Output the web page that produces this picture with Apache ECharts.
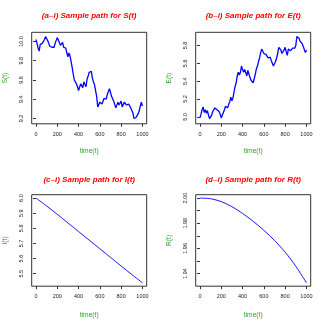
<!DOCTYPE html>
<html>
<head>
<meta charset="utf-8">
<script src="https://cdn.jsdelivr.net/npm/echarts@6/dist/echarts.min.js"></script>
<style>
html,body{margin:0;padding:0;background:#fff;}
#c{width:327px;height:327px;}
</style>
</head>
<body>
<div id="c"></div>
<script>
// ---- data ----
var timeWalk = [0,10,20,30,40,50,60,70,80,90,100,110,120,130,140,150,160,170,180,190,200,210,220,230,240,250,260,270,280,290,300,310,320,330,340,350,360,370,380,390,400,410,420,430,440,450,460,470,480,490,500,510,520,530,540,550,560,570,580,590,600,610,620,630,640,650,660,670,680,690,700,710,720,730,740,750,760,770,780,790,800,810,820,830,840,850,860,870,880,890,900,910,920,930,940,950,960,970,980,990,1000];
var sValues = [10.02,9.98,9.93,9.90,9.97,9.95,9.98,10.00,10.02,10.05,10.06,10.01,9.98,9.95,9.93,9.94,9.92,9.94,9.98,10.00,10.04,10.02,9.99,9.96,9.94,9.99,9.94,9.92,9.93,9.88,9.84,9.88,9.85,9.79,9.73,9.66,9.60,9.58,9.56,9.53,9.49,9.48,9.56,9.55,9.52,9.58,9.56,9.53,9.61,9.64,9.68,9.66,9.69,9.62,9.58,9.55,9.49,9.43,9.32,9.34,9.37,9.38,9.35,9.37,9.41,9.42,9.40,9.45,9.46,9.51,9.47,9.43,9.41,9.38,9.36,9.31,9.33,9.37,9.34,9.35,9.38,9.32,9.34,9.37,9.35,9.34,9.33,9.35,9.36,9.31,9.29,9.26,9.20,9.18,9.21,9.23,9.25,9.28,9.33,9.37,9.33];
var eValues = [4.99,5.03,5.08,5.11,5.05,5.08,5.04,5.07,5.02,4.98,4.96,5.02,5.06,5.08,5.10,5.09,5.08,5.10,5.06,5.03,4.99,5.01,5.05,5.08,5.12,5.13,5.10,5.14,5.17,5.22,5.18,5.21,5.28,5.34,5.38,5.46,5.50,5.47,5.50,5.57,5.53,5.50,5.53,5.51,5.46,5.52,5.50,5.44,5.41,5.40,5.38,5.43,5.48,5.54,5.57,5.62,5.66,5.72,5.76,5.74,5.71,5.72,5.70,5.69,5.66,5.65,5.67,5.63,5.61,5.57,5.58,5.62,5.66,5.71,5.78,5.77,5.75,5.71,5.73,5.75,5.78,5.73,5.69,5.76,5.77,5.74,5.76,5.77,5.78,5.77,5.80,5.90,5.91,5.88,5.85,5.83,5.82,5.79,5.77,5.72,5.75];
var timeSmooth = [0,100,200,300,400,500,600,700,800,900,1000];
var iValues = [6.000,5.948,5.893,5.836,5.779,5.722,5.665,5.608,5.551,5.495,5.440];
var rValues = [2.0000,1.9995,1.9972,1.9932,1.9878,1.9815,1.9744,1.9663,1.9570,1.9458,1.9326];

var xTicks = [0,200,400,600,800,1000];
var sTicks = [9.2,9.4,9.6,9.8,10.0];
var eTicks = [5.0,5.2,5.4,5.6,5.8];
var iTicks = [5.5,5.6,5.7,5.8,5.9,6.0];
var rTicks = [1.94,1.95,1.96,1.97,1.98,1.99,2.00];
var rLabels = [1.94,1.96,1.98,2.00];

var titles = ['(a–i) Sample path for S(t)','(b–i) Sample path for E(t)','(c–i) Sample path for I(t)','(d–i) Sample path for R(t)'];
var yNames = ['S(t)','E(t)','I(t)','R(t)'];
var xName = 'time(t)';

// ---- layout ----
var panels = [
  {t: timeWalk, v: sValues, ticks: sTicks, labels: sTicks, dec: 1, smooth: false, lw: 1.3},
  {t: timeWalk, v: eValues, ticks: eTicks, labels: eTicks, dec: 1, smooth: false, lw: 1.3},
  {t: timeSmooth, v: iValues, ticks: iTicks, labels: iTicks, dec: 1, smooth: 0.3, lw: 0.9},
  {t: timeSmooth, v: rValues, ticks: rTicks, labels: rLabels, dec: 2, smooth: 0.3, lw: 0.9}
];
var colX = [0, 164];
var boxTop = [32.3, 194.7];
var titleY = [16, 180];
var xNameY = [151.3, 314.7];
var boxLeft = 31.7, boxW = 115, boxH = 91.5;

function ext(arr){
  var mn = Math.min.apply(null, arr), mx = Math.max.apply(null, arr);
  var d = (mx - mn) * 0.04;
  return [mn - d, mx + d];
}

var grids = [], xAxes = [], yAxes = [], series = [], graphics = [];
var FONT = '"Liberation Sans", Arial, Helvetica, sans-serif';
panels.forEach(function(p, i){
  var col = i % 2, row = Math.floor(i / 2);
  var L = colX[col] + boxLeft, T = boxTop[row];
  grids.push({left: L, top: T, width: boxW, height: boxH, show: true,
    borderColor: '#333', borderWidth: 1, backgroundColor: 'transparent', containLabel: false});
  var xr = ext(p.t), yr = ext(p.v);
  xAxes.push({type: 'value', gridIndex: i, min: xr[0], max: xr[1],
    axisLine: {show: false}, splitLine: {show: false},
    axisTick: {show: true, inside: false, length: 3, customValues: xTicks, lineStyle: {color: '#333', width: 1}},
    axisLabel: {show: true, customValues: xTicks, fontSize: 5.5, color: '#222', margin: 7.5, fontFamily: FONT,
      formatter: function(v){ return String(Math.round(v)); }}
  });
  var dec = p.dec;
  yAxes.push({type: 'value', gridIndex: i, min: yr[0], max: yr[1],
    axisLine: {show: false}, splitLine: {show: false},
    axisTick: {show: true, inside: false, length: 3, customValues: p.ticks, lineStyle: {color: '#333', width: 1}},
    axisLabel: {show: true, customValues: p.labels, fontSize: 5.5, color: '#222', margin: 7.5, rotate: 90,
      align: 'center', verticalAlign: 'bottom', fontFamily: FONT,
      formatter: function(v){ return Number(v).toFixed(dec); }}
  });
  var data = p.t.map(function(t, k){ return [t, p.v[k]]; });
  series.push({type: 'line', xAxisIndex: i, yAxisIndex: i, data: data, showSymbol: false,
    smooth: p.smooth, animation: false, lineStyle: {color: '#0000ff', width: p.lw}, itemStyle: {color: '#0000ff'}});
  var cx = L + boxW / 2;
  graphics.push({type: 'text', x: cx, y: titleY[row], style: {text: titles[i], fill: '#ff0000',
    font: 'italic bold 8px ' + FONT, textAlign: 'center', textVerticalAlign: 'middle', align: 'center', verticalAlign: 'middle'}});
  graphics.push({type: 'text', x: cx, y: xNameY[row], style: {text: xName, fill: '#2e9e2e',
    font: '6.7px ' + FONT, textAlign: 'center', textVerticalAlign: 'middle', align: 'center', verticalAlign: 'middle'}});
  graphics.push({type: 'text', x: colX[col] + 5.5, y: T + boxH / 2, rotation: Math.PI / 2,
    style: {text: yNames[i], fill: '#2e9e2e', font: '6.7px ' + FONT,
    textAlign: 'center', textVerticalAlign: 'middle', align: 'center', verticalAlign: 'middle'}});
});

var chart = echarts.init(document.getElementById('c'), null, {renderer: 'canvas'});
chart.setOption({
  backgroundColor: '#fff',
  animation: false,
  grid: grids,
  xAxis: xAxes,
  yAxis: yAxes,
  series: series,
  graphic: graphics
});
</script>
</body>
</html>
